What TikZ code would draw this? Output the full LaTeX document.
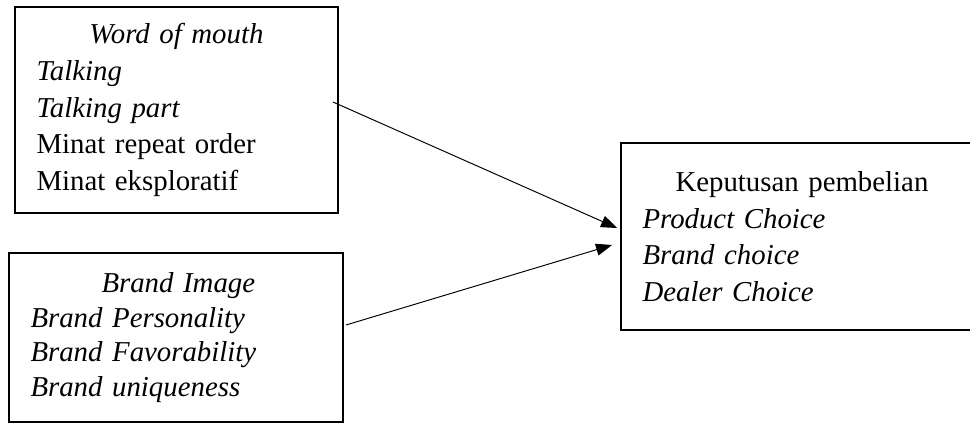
\documentclass[tikz,border=0pt]{standalone}
\usepackage{fontspec}
\setmainfont{Liberation Serif}
\usetikzlibrary{arrows.meta,calc}

\begin{document}
\begin{tikzpicture}[
    box/.style={rectangle, draw, line width=1.1pt, align=left,
                inner xsep=0.43cm, inner ysep=0pt,
                font=\fontsize{16.4}{20.8}\selectfont},
    arr/.style={-{Triangle[length=0.32cm, width=0.24cm]}, line width=0.55pt},
  ]
  \useasboundingbox (0,0) rectangle (19.4,-8.46);

  % Independent variables
  \node[box, minimum width=6.46cm, minimum height=4.12cm,
        text width=5.6cm] (wom) at (3.53,-2.2)
    {\hspace*{1.06cm}\textit{Word of mouth}\\
     \textit{Talking}\\
     \textit{Talking part}\\
     Minat repeat order\\
     Minat eksploratif};

  \node[box, minimum width=6.68cm, minimum height=3.38cm,
        text width=5.82cm, font=\fontsize{16.4}{19.8}\selectfont]
    (bi) at (3.52,-6.75)
    {\hspace*{1.42cm}\textit{Brand Image}\\
     \textit{Brand Personality}\\
     \textit{Brand Favorability}\\
     \textit{Brand uniqueness}};

  % Dependent variable
  \node[box, minimum width=7.28cm, minimum height=3.74cm,
        text width=6.42cm] (kp) at (16.06,-4.73)
    {\hspace*{0.66cm}Keputusan pembelian\\
     \textit{Product Choice}\\
     \textit{Brand choice}\\
     \textit{Dealer Choice}};

  % Arrows
  \coordinate (womout) at ($(wom.east)+(-0.12,0.16)$);
  \draw[arr] (womout) -- ($(kp.west)+(-0.06,0.17)$);
  \draw[arr] ($(bi.east)+(0.04,0.25)$) -- ($(kp.west)+(-0.16,-0.17)$);

\end{tikzpicture}
\end{document}
